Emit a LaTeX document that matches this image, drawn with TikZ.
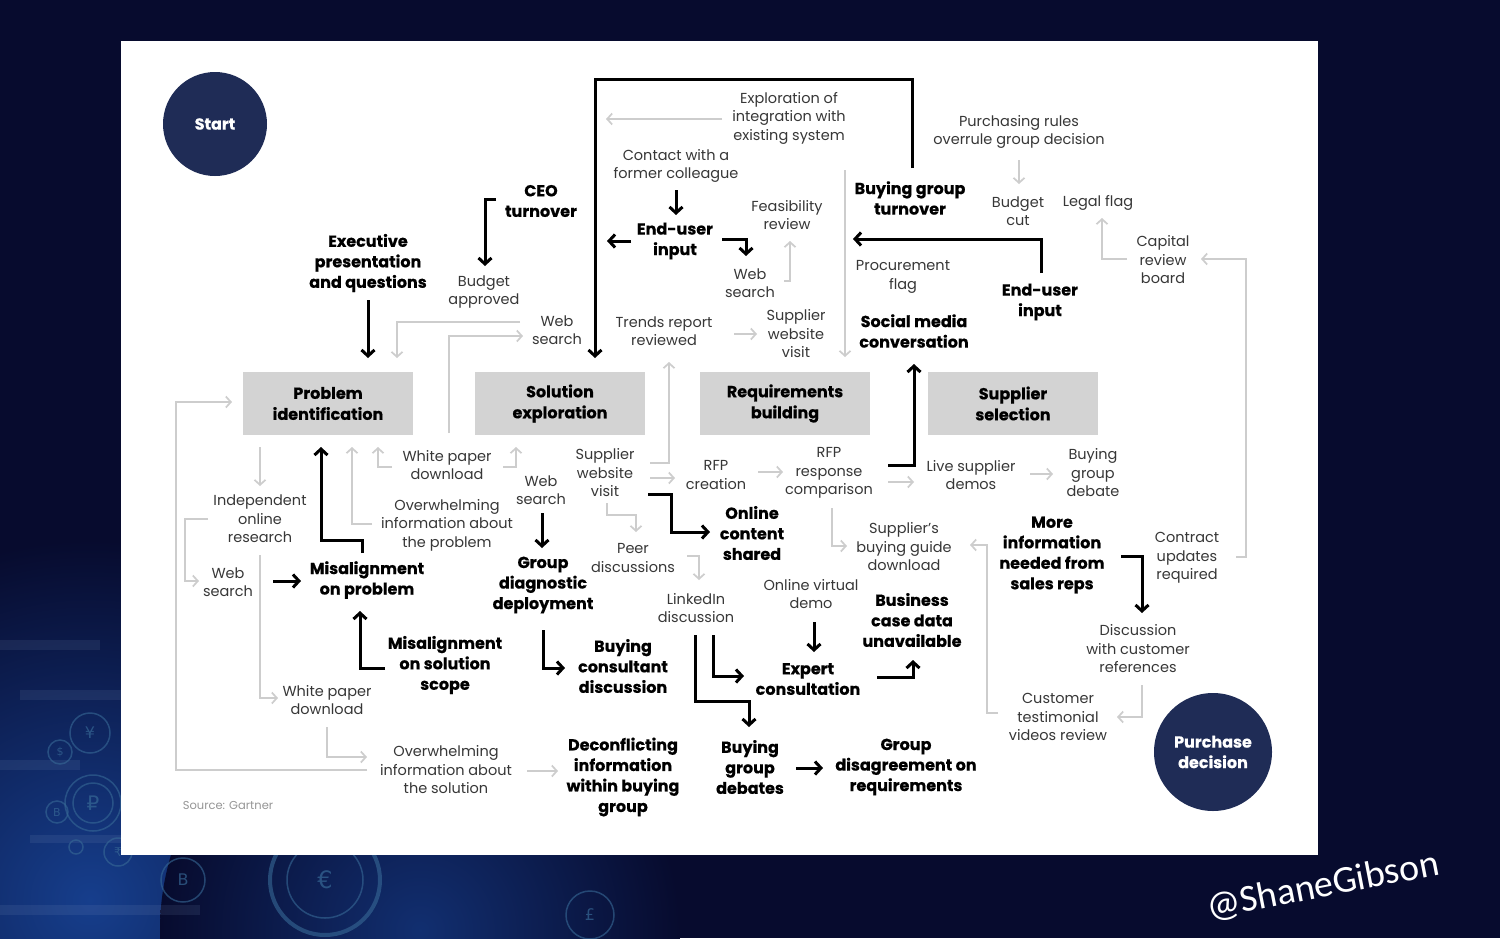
\documentclass[tikz,border=0pt]{standalone}
\usepackage{fontspec}
\setmainfont{Poppins}[BoldFeatures={FakeBold=0.5}]
\newfontfamily\calib{Carlito}
\newfontfamily\symf{DejaVu Sans}
\usetikzlibrary{arrows.meta,calc}
\definecolor{bgnavy}{RGB}{7,11,46}
\definecolor{boxgray}{RGB}{211,211,211}
\definecolor{circnavy}{RGB}{31,44,86}
\definecolor{lgray}{RGB}{205,205,205}
\definecolor{txtgray}{RGB}{55,55,55}
\definecolor{srcgray}{RGB}{150,150,150}
\definecolor{coinblue}{RGB}{55,105,150}
\definecolor{glowblue}{RGB}{22,62,140}
\tikzset{
  boldtxt/.style={align=center, inner sep=0pt, text=black, font=\fontsize{16}{20.5}\selectfont\bfseries},
  regtxt/.style={align=center, inner sep=0pt, text=txtgray, font=\fontsize{14.5}{18.5}\selectfont},
  stagebox/.style={rectangle, fill=boxgray, minimum width=170pt, minimum height=63pt, inner sep=0pt, align=center, font=\fontsize{16}{21}\selectfont\bfseries},
  navycirc/.style={circle, fill=circnavy, inner sep=0pt, align=center, text=white, font=\fontsize{16}{20.5}\selectfont\bfseries},
  blk/.style={draw=black, line width=3pt, line join=miter, -{Straight Barb[length=6pt,width=13pt,line width=3pt]}},
  gry/.style={draw=lgray, line width=1.7pt, -{Straight Barb[length=5pt,width=11pt,line width=1.7pt]}},
  coin/.style={draw=coinblue, line width=1.5pt, opacity=0.6},
  cointxt/.style={text=coinblue, opacity=0.7, font=\symf\fontsize{16}{16}\selectfont},
  stripe/.style={fill=glowblue!50!white, opacity=0.12}
}
\begin{document}
\begin{tikzpicture}[x=1pt,y=-1pt]
\useasboundingbox (0,0) rectangle (1500,938);
% ---------- background ----------
\begin{scope}
\clip (0,0) rectangle (1500,938);
\fill[bgnavy] (0,0) rectangle (1500,938);
\shade[inner color=glowblue, outer color=bgnavy] (90,900) circle (360pt);
\shade[inner color=glowblue!70!bgnavy, outer color=bgnavy] (420,930) circle (260pt);
\fill[stripe] (0,640) rectangle (100,650);
\fill[stripe] (20,690) rectangle (121,700);
\fill[stripe] (0,760) rectangle (80,770);
\fill[stripe] (30,835) rectangle (121,843);
\fill[stripe] (0,905) rectangle (200,915);
\draw[coin] (90,733) circle (20pt); \node[cointxt] (c1) at (90,733) {¥};
\draw[coin] (60,752) circle (12pt); \node[cointxt,font=\symf\fontsize{11}{11}\selectfont] (c2) at (60,752) {\$};
\draw[coin] (93,803) circle (28pt); \draw[coin] (93,803) circle (20pt); \node[cointxt,font=\symf\fontsize{20}{20}\selectfont] (c3) at (93,803) {₽};
\draw[coin] (57,812) circle (11pt); \node[cointxt,font=\symf\fontsize{11}{11}\selectfont] (c4) at (57,812) {B};
\draw[coin] (76,847) circle (7pt);
\draw[coin] (118,852) circle (14pt); \node[cointxt,font=\symf\fontsize{12}{12}\selectfont] (c5) at (118,852) {₹};
\draw[coin] (183,880) circle (22pt); \node[cointxt] (c6) at (183,880) {B};
\draw[coin, line width=4pt] (325,880) circle (55pt); \draw[coin] (325,880) circle (38pt); \node[cointxt,font=\symf\fontsize{24}{24}\selectfont] (c7) at (325,880) {€};
\draw[coin] (590,915) circle (24pt); \node[cointxt] (c8) at (590,915) {£};
\end{scope}
% ---------- panel ----------
\fill[white] (121,41) rectangle (1318,855);
% ---------- circles and stages ----------
\node[navycirc, minimum size=104pt] (start) at (215,124) {Start};
\node[navycirc, minimum size=118pt] (purch) at (1213,752) {Purchase\\decision};
\node[stagebox] (prob) at (328,403.5) {Problem\\identification};
\node[stagebox] (solx) at (560,403.5) {Solution\\exploration};
\node[stagebox] (reqb) at (785,403.5) {Requirements\\building};
\node[stagebox] (supsel) at (1013,403.5) {Supplier\\selection};
% ---------- bold nodes ----------
\node[boldtxt] (ceo) at (541,201) {CEO\\turnover};
\node[boldtxt] (exec) at (368,263) {Executive\\presentation\\and questions};
\node[boldtxt] (eu1) at (675,241) {End-user\\input};
\node[boldtxt] (bgt) at (910,198) {Buying group\\turnover};
\node[boldtxt] (eu2) at (1040,302) {End-user\\input};
\node[boldtxt] (smc) at (914,331) {Social media\\conversation};
\node[boldtxt] (ocs) at (752,533) {Online\\content\\shared};
\node[boldtxt] (mprob) at (367,580) {Misalignment\\on problem};
\node[boldtxt] (gdd) at (543,585) {Group\\diagnostic\\deployment};
\node[boldtxt] (msol) at (445,665) {Misalignment\\on solution\\scope};
\node[boldtxt] (bcd) at (623,666) {Buying\\consultant\\discussion};
\node[boldtxt] (moreinfo) at (1052,555) {More\\information\\needed from\\sales reps};
\node[boldtxt] (bcdu) at (912,620) {Business\\case data\\unavailable};
\node[boldtxt] (expert) at (808,679) {Expert\\consultation};
\node[boldtxt] (decon) at (623,777) {Deconflicting\\information\\within buying\\group};
\node[boldtxt] (bgdebates) at (750,767) {Buying\\group\\debates};
\node[boldtxt] (gdr) at (906,767) {Group\\disagreement on\\requirements};
% ---------- regular nodes ----------
\node[regtxt] (explint) at (789,118) {Exploration of\\integration with\\existing system};
\node[regtxt] (contact) at (676,166) {Contact with a\\former colleague};
\node[regtxt] (feas) at (787,215) {Feasibility\\review};
\node[regtxt] (ws1) at (750,283) {Web\\search};
\node[regtxt] (budapp) at (484,292) {Budget\\approved};
\node[regtxt] (ws2) at (557,330) {Web\\search};
\node[regtxt] (trends) at (664,331) {Trends report\\reviewed};
\node[regtxt] (swv1) at (796,334) {Supplier\\website\\visit};
\node[regtxt] (purrules) at (1019,132) {Purchasing rules\\overrule group decision};
\node[regtxt] (budcut) at (1018,211) {Budget\\cut};
\node[regtxt] (legal) at (1098,203) {Legal flag};
\node[regtxt] (capital) at (1163,260) {Capital\\review\\board};
\node[regtxt] (procflag) at (903,277) {Procurement\\flag};
\node[regtxt] (wpd1) at (447,465) {White paper\\download};
\node[regtxt] (indep) at (260,519) {Independent\\online\\research};
\node[regtxt] (owprob) at (447,525) {Overwhelming\\information about\\the problem};
\node[regtxt] (ws3) at (228,582) {Web\\search};
\node[regtxt] (ws4) at (541,490) {Web\\search};
\node[regtxt] (swv2) at (605,473) {Supplier\\website\\visit};
\node[regtxt] (peer) at (633,558) {Peer\\discussions};
\node[regtxt] (rfpc) at (716,475) {RFP\\creation};
\node[regtxt] (rfpr) at (829,473) {RFP\\response\\comparison};
\node[regtxt] (live) at (971,475) {Live supplier\\demos};
\node[regtxt] (bgdebate) at (1093,473) {Buying\\group\\debate};
\node[regtxt] (contract) at (1187,558) {Contract\\updates\\required};
\node[regtxt] (sbg) at (904,547) {Supplier’s\\buying guide\\download};
\node[regtxt] (ovd) at (811,594) {Online virtual\\demo};
\node[regtxt] (linkedin) at (696,608) {LinkedIn\\discussion};
\node[regtxt] (disc) at (1138,649) {Discussion\\with customer\\references};
\node[regtxt] (custtest) at (1058,717) {Customer\\testimonial\\videos review};
\node[regtxt] (wpd2) at (327,700) {White paper\\download};
\node[regtxt] (owsol) at (446,770) {Overwhelming\\information about\\the solution};
\node[regtxt, text=srcgray, font=\fontsize{11.5}{14}\selectfont] (source) at (228,805) {Source: Gartner};
% ---------- watermark ----------
\node[rotate=11, text=white, inner sep=0pt, font=\calib\fontsize{38}{40}\selectfont] (tag) at (1323,886) {@ShaneGibson};
% ---------- grey connectors ----------
\draw[gry] ($(explint)+(-67,1)$) -- ($(explint)+(-183,1)$);
\draw[gry] ($(ws1)+(34,-2)$) -| ($(feas)+(3,26)$);
\draw[gry] ($(trends)+(70,3)$) -- ($(swv1)+(-39,0)$);
\draw[gry] ($(bgt)+(-65,-28)$) -- ($(reqb)+(60,-46.5)$);
\draw[gry] ($(purrules)+(0,28)$) -- ($(budcut)+(1,-27)$);
\draw[gry] ($(capital)+(-36,-1)$) -| ($(legal)+(4,15)$);
\draw[gry] ($(contract)+(49,-1)$) -- ++(10,0) |- ($(capital)+(38,-1)$);
\draw[gry] ($(ws2)+(-37,-8)$) -| ($(prob)+(69,-45.5)$);
\draw[gry] ($(wpd1)+(2,-32)$) |- ($(ws2)+(-34,6)$);
\draw[gry] ($(wpd1)+(-55,2)$) -| ($(prob)+(50,43.5)$);
\draw[gry] ($(wpd1)+(56,2)$) -| ($(solx)+(-44,43.5)$);
\draw[gry] ($(owprob)+(-75,-1)$) -| ($(prob)+(24,43.5)$);
\draw[gry] ($(prob)+(-68,43.5)$) -- ($(indep)+(0,-33)$);
\draw[gry] ($(indep)+(-52,0)$) -- ++(-23,0) |- ($(ws3)+(-29,-1)$);
\draw[gry] ($(indep)+(0,36)$) |- ($(wpd2)+(-49,-2)$);
\draw[gry] ($(owsol)+(-79,0)$) -- ++(-191,0) |- ($(prob)+(-96,-1.5)$);
\draw[gry] ($(wpd2)+(0,27)$) |- ($(owsol)+(-79,-13)$);
\draw[gry] ($(owsol)+(81,1)$) -- ($(decon)+(-65,-6)$);
\draw[gry] ($(swv2)+(45,-10)$) -| ($(trends)+(5,31)$);
\draw[gry] ($(swv2)+(45,5)$) -- ($(rfpc)+(-41,3)$);
\draw[gry] ($(swv2)+(2,30)$) -- ++(0,12) -| ($(peer)+(3,-26)$);
\draw[gry] ($(peer)+(54,-2)$) -| ($(linkedin)+(3,-28)$);
\draw[gry] ($(rfpc)+(42,-3)$) -- ($(rfpr)+(-46,-1)$);
\draw[gry] ($(rfpr)+(59,9)$) -- ($(live)+(-57,7)$);
\draw[gry] ($(rfpr)+(3,35)$) |- ($(sbg)+(-57,-1)$);
\draw[gry] ($(live)+(59,-1)$) -- ($(bgdebate)+(-40,1)$);
\draw[gry] ($(custtest)+(-60,-4)$) -- ++(-11,0) |- ($(sbg)+(66,-2)$);
\draw[gry] ($(disc)+(4,36)$) |- ($(custtest)+(59,0)$);
% ---------- black connectors ----------
\draw[blk] ($(bgt)+(2,-30)$) -- ++(0,-89) -| ($(solx)+(35,-45.5)$);
\draw[blk] ($(ceo)+(-45,-2)$) -| ($(budapp)+(1,-26)$);
\draw[blk] ($(exec)+(0,37)$) -- ($(prob)+(40,-45.5)$);
\draw[blk] ($(contact)+(0,24)$) -- ($(eu1)+(1,-26)$);
\draw[blk] ($(eu1)+(-44,0)$) -- ($(eu1)+(-68,0)$);
\draw[blk] ($(eu1)+(47,-2)$) -| ($(ws1)+(-4,-27)$);
\draw[blk] ($(eu2)+(1,-29)$) |- ($(bgt)+(-57,41)$);
\draw[blk] ($(rfpr)+(59,-8)$) -| ($(smc)+(0,33)$);
\draw[blk] ($(swv2)+(43,21)$) -- ++(23,0) |- ($(ocs)+(-42,-1)$);
\draw[blk] ($(ws4)+(1,23)$) -- ($(gdd)+(-1,-37)$);
\draw[blk] ($(mprob)+(-5,-27)$) -- ++(0,-13) -| ($(prob)+(-7,43.5)$);
\draw[blk] ($(ws3)+(45,-1)$) -- ($(mprob)+(-66,1)$);
\draw[blk] ($(msol)+(-60,3)$) -| ($(mprob)+(-7,31)$);
\draw[blk] ($(gdd)+(0,45)$) |- ($(bcd)+(-58,2)$);
\draw[blk] ($(linkedin)+(17,27)$) |- ($(expert)+(-64,-3)$);
\draw[blk] ($(linkedin)+(-1,27)$) |- ($(bgdebates)+(-1,-66)$) -- ($(bgdebates)+(-1,-40)$);
\draw[blk] ($(ovd)+(3,28)$) -- ($(expert)+(6,-27)$);
\draw[blk] ($(expert)+(69,-2)$) -| ($(bcdu)+(1,40)$);
\draw[blk] ($(bgdebates)+(46,1)$) -- ($(gdr)+(-83,1)$);
\draw[blk] ($(moreinfo)+(69,1)$) -| ($(disc)+(4,-36)$);
\end{tikzpicture}
\end{document}
